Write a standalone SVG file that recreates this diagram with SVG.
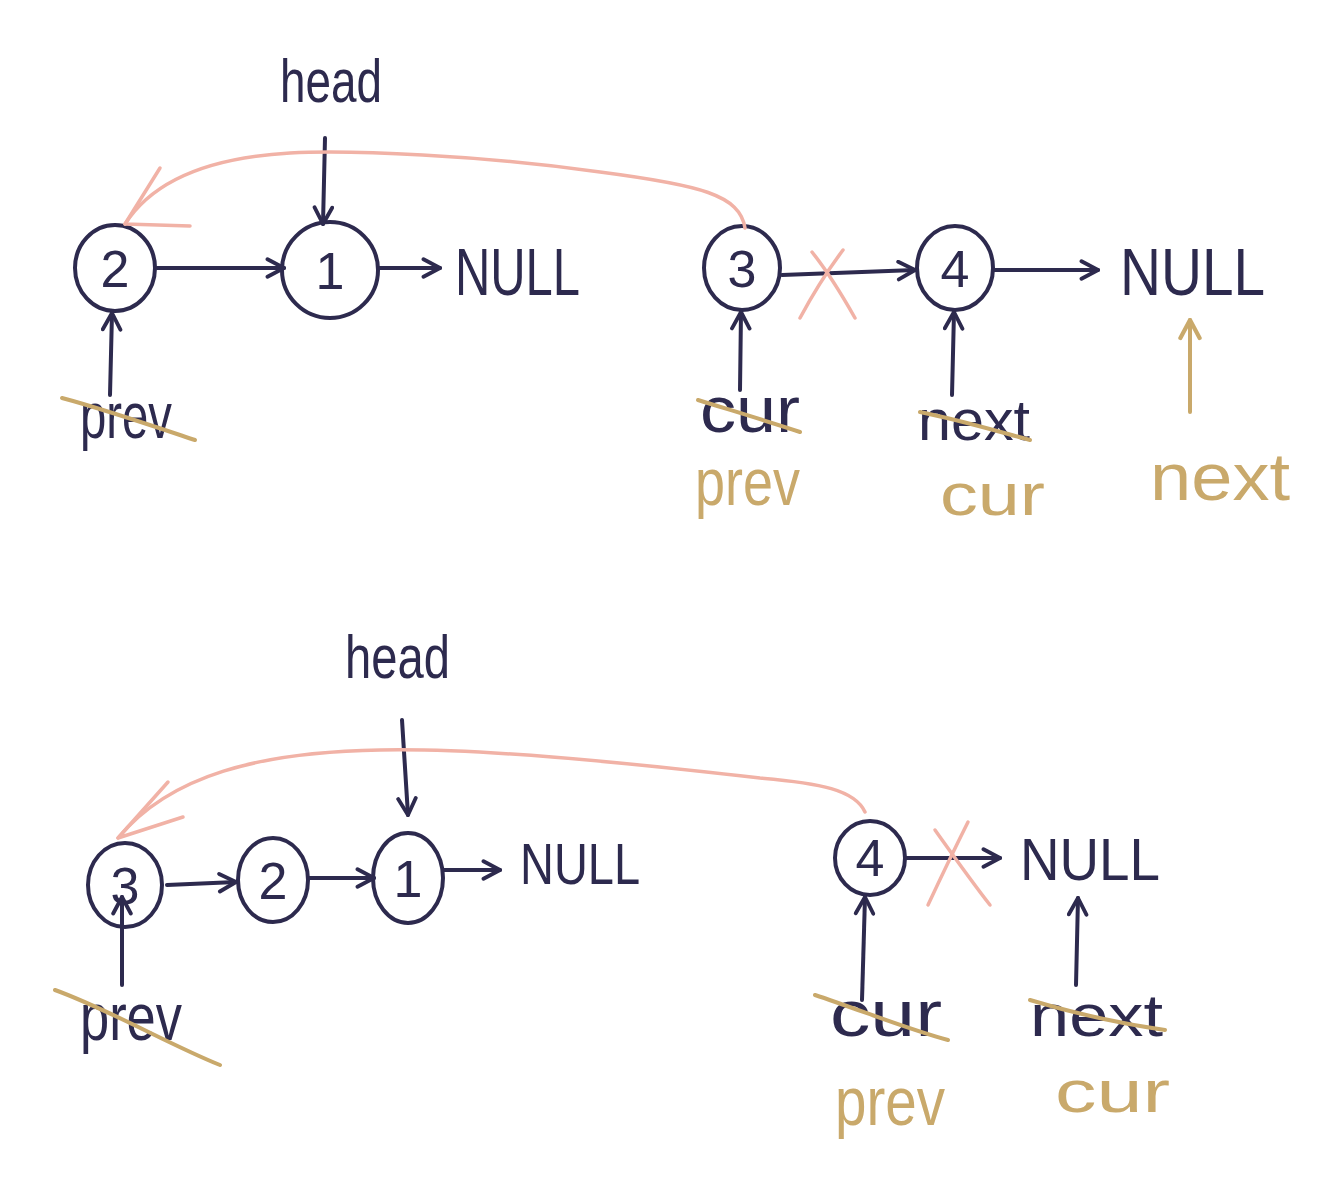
<svg xmlns="http://www.w3.org/2000/svg" width="1336" height="1204" viewBox="0 0 1336 1204">
<defs>
<style>
.nv{fill:none;stroke:#2d2a4e;stroke-width:4;stroke-linecap:round;stroke-linejoin:round}
.pk{fill:none;stroke:#f1b2a6;stroke-width:3.5;stroke-linecap:round;stroke-linejoin:round}
.gd{fill:none;stroke:#c9a96b;stroke-width:4;stroke-linecap:round;stroke-linejoin:round}
.tn{fill:#2d2a4e;font-family:"Liberation Sans",Arial,sans-serif}
.tg{fill:#c9a96b;font-family:"Liberation Sans",Arial,sans-serif}
.num{fill:#2d2a4e;font-family:"Liberation Sans",Arial,sans-serif;font-size:52px;text-anchor:middle}
</style>
<marker id="an" viewBox="0 0 20 20" refX="18" refY="10" markerWidth="22" markerHeight="22" markerUnits="userSpaceOnUse" orient="auto">
<path d="M3,2 L18,10 L3,18" fill="none" stroke="#2d2a4e" stroke-width="3.5" stroke-linecap="round" stroke-linejoin="round"/>
</marker>
<marker id="ag" viewBox="0 0 20 20" refX="18" refY="10" markerWidth="24" markerHeight="24" markerUnits="userSpaceOnUse" orient="auto">
<path d="M3,2 L18,10 L3,18" fill="none" stroke="#c9a96b" stroke-width="3.5" stroke-linecap="round" stroke-linejoin="round"/>
</marker>
</defs>
<rect width="1336" height="1204" fill="#ffffff"/>

<!-- TOP STATE -->
<g id="top-head"><text class="tn" x="280" y="102" font-size="62" textLength="102" lengthAdjust="spacingAndGlyphs">head</text></g>
<g id="top-node2"><ellipse class="nv" cx="115" cy="268" rx="40" ry="43"/><text class="num" x="115" y="287">2</text></g>
<g id="top-node1"><ellipse class="nv" cx="330" cy="270" rx="48" ry="48"/><text class="num" x="330" y="289">1</text></g>
<g id="top-null1"><text class="tn" x="455" y="295" font-size="66" textLength="125" lengthAdjust="spacingAndGlyphs">NULL</text></g>
<g id="top-node3"><ellipse class="nv" cx="742" cy="268" rx="38" ry="42"/><text class="num" x="742" y="287">3</text></g>
<g id="top-node4"><ellipse class="nv" cx="955" cy="268" rx="38" ry="42"/><text class="num" x="955" y="287">4</text></g>
<g id="top-null2"><text class="tn" x="1120" y="295" font-size="66" textLength="145" lengthAdjust="spacingAndGlyphs">NULL</text></g>
<g id="top-prev-old"><text class="tn" x="80" y="438" font-size="64" textLength="92" lengthAdjust="spacingAndGlyphs">prev</text><path class="gd" d="M62,398 C100,408 150,425 195,440"/></g>
<g id="top-cur-old"><text class="tn" x="700" y="432" font-size="64" textLength="100" lengthAdjust="spacingAndGlyphs">cur</text><path class="gd" d="M698,400 C730,410 770,422 800,432"/></g>
<g id="top-next-old"><text class="tn" x="918" y="440" font-size="58" textLength="112" lengthAdjust="spacingAndGlyphs">next</text><path class="gd" d="M920,412 C960,420 1000,432 1030,440"/></g>
<g id="top-prev-new"><text class="tg" x="695" y="505" font-size="66" textLength="105" lengthAdjust="spacingAndGlyphs">prev</text></g>
<g id="top-cur-new"><text class="tg" x="940" y="515" font-size="60" textLength="105" lengthAdjust="spacingAndGlyphs">cur</text></g>
<g id="top-next-new"><text class="tg" x="1150" y="500" font-size="66" textLength="140" lengthAdjust="spacingAndGlyphs">next</text></g>

<!-- BOTTOM STATE -->
<g id="bot-head"><text class="tn" x="345" y="678" font-size="62" textLength="105" lengthAdjust="spacingAndGlyphs">head</text></g>
<g id="bot-node3"><ellipse class="nv" cx="125" cy="885" rx="37" ry="42"/><text class="num" x="125" y="904">3</text></g>
<g id="bot-node2"><ellipse class="nv" cx="273" cy="880" rx="35" ry="42"/><text class="num" x="273" y="899">2</text></g>
<g id="bot-node1"><ellipse class="nv" cx="408" cy="878" rx="35" ry="45"/><text class="num" x="408" y="897">1</text></g>
<g id="bot-null1"><text class="tn" x="520" y="884" font-size="58" textLength="120" lengthAdjust="spacingAndGlyphs">NULL</text></g>
<g id="bot-node4"><ellipse class="nv" cx="870" cy="858" rx="35" ry="37"/><text class="num" x="870" y="876">4</text></g>
<g id="bot-null2"><text class="tn" x="1020" y="880" font-size="60" textLength="140" lengthAdjust="spacingAndGlyphs">NULL</text></g>
<g id="bot-prev-old"><text class="tn" x="80" y="1040" font-size="66" textLength="102" lengthAdjust="spacingAndGlyphs">prev</text><path class="gd" d="M55,990 C110,1010 170,1045 220,1065"/></g>
<g id="bot-cur-old"><text class="tn" x="830" y="1036" font-size="64" textLength="112" lengthAdjust="spacingAndGlyphs">cur</text><path class="gd" d="M815,995 C860,1010 910,1030 948,1040"/></g>
<g id="bot-next-old"><text class="tn" x="1030" y="1036" font-size="60" textLength="133" lengthAdjust="spacingAndGlyphs">next</text><path class="gd" d="M1030,1000 C1080,1015 1130,1025 1165,1030"/></g>
<g id="bot-prev-new"><text class="tg" x="835" y="1125" font-size="68" textLength="110" lengthAdjust="spacingAndGlyphs">prev</text></g>
<g id="bot-cur-new"><text class="tg" x="1055" y="1112" font-size="60" textLength="115" lengthAdjust="spacingAndGlyphs">cur</text></g>

<g id="connectors">
<!-- top -->
<path class="nv" d="M325,138 L323,224" marker-end="url(#an)"/>
<path class="nv" d="M157,268 L284,268" marker-end="url(#an)"/>
<path class="nv" d="M379,268 L440,268" marker-end="url(#an)"/>
<path class="nv" d="M782,275 L915,270" marker-end="url(#an)"/>
<path class="nv" d="M994,270 L1098,270" marker-end="url(#an)"/>
<path class="nv" d="M110,395 L112,313" marker-end="url(#an)"/>
<path class="nv" d="M740,390 L741,312" marker-end="url(#an)"/>
<path class="nv" d="M952,395 L954,312" marker-end="url(#an)"/>
<path class="gd" d="M1190,412 L1190,320" marker-end="url(#ag)"/>
<path class="pk" d="M745,228 C740,195 700,185 600,172 C480,155 350,150 290,153 C200,158 150,185 125,224"/>
<path class="pk" d="M160,168 L125,224 L190,226"/>
<path class="pk" d="M800,318 C815,290 828,270 843,250"/>
<path class="pk" d="M812,252 C828,272 842,295 855,318"/>
<!-- bottom -->
<path class="nv" d="M402,720 L408,815" marker-end="url(#an)"/>
<path class="nv" d="M167,885 L236,882" marker-end="url(#an)"/>
<path class="nv" d="M309,878 L374,878" marker-end="url(#an)"/>
<path class="nv" d="M444,870 L500,870" marker-end="url(#an)"/>
<path class="nv" d="M906,858 L1000,858" marker-end="url(#an)"/>
<path class="nv" d="M122,985 L122,897" marker-end="url(#an)"/>
<path class="nv" d="M862,1000 L865,897" marker-end="url(#an)"/>
<path class="nv" d="M1076,985 L1078,898" marker-end="url(#an)"/>
<path class="pk" d="M865,812 C855,790 820,783 760,778 C620,762 480,748 380,750 C260,752 170,775 118,838"/>
<path class="pk" d="M168,782 L118,838 L183,817"/>
<path class="pk" d="M928,905 C942,875 955,848 968,822"/>
<path class="pk" d="M935,830 C955,858 972,882 990,905"/>
</g>
</svg>
